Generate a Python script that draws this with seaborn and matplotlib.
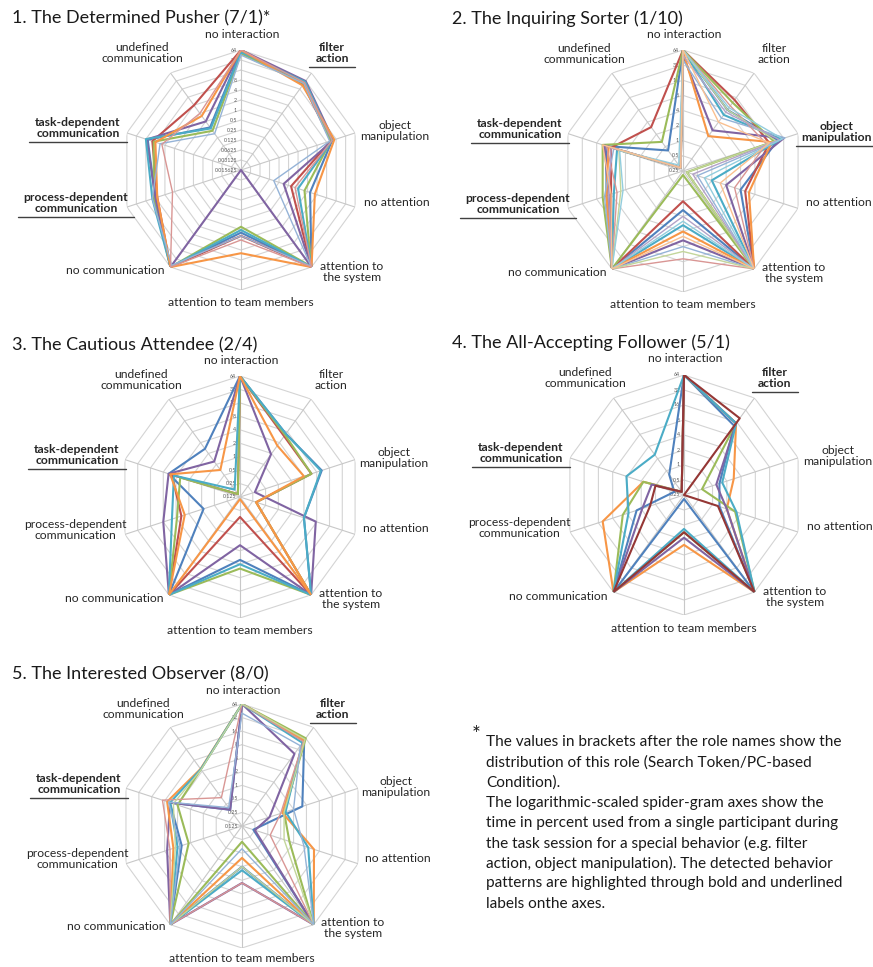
import numpy as np
import matplotlib
matplotlib.use('Agg')
import matplotlib.pyplot as plt
from matplotlib.lines import Line2D
import seaborn as sns

sns.set_theme(style='white')
plt.rcParams['font.family'] = ['Lato', 'DejaVu Sans']

W, H = 873, 967

# axes of the spider-grams, clockwise from the top
axis_labels = ['no interaction', 'filter\naction', 'object\nmanipulation', 'no attention',
               'attention to\nthe system', 'attention to team members', 'no communication',
               'process-dependent\ncommunication', 'task-dependent\ncommunication',
               'undefined\ncommunication']

# Excel-like series colours
B, R, G, P, A, O = '#4F81BD', '#C0504D', '#9BBB59', '#8064A2', '#4BACC6', '#F79646'
LB, PK, LG, LP, LA, LO = '#95B3D7', '#D99694', '#C3D69B', '#B3A2C7', '#93CDDD', '#FAC090'
DR = '#953735'

# 1. The Determined Pusher  (values in % of session time)
pusher = [
    [60, 28, 12, 2.4, 64, 1.2, 64, 8, 14, 0.6],
    [64, 24, 11, 0.6, 64, 1.5, 64, 7, 10, 4],
    [50, 26, 11, 1.6, 60, 0.8, 64, 9, 9, 0.45],
    [64, 32, 13, 0.35, 64, 0.015625, 64, 8, 15, 1.0],
    [55, 30, 12, 1.0, 64, 1.0, 64, 10, 16, 0.55],
    [64, 22, 14, 3.4, 64, 5, 64, 7, 8, 1.6],
    [45, 26, 10, 0.17, 60, 1.5, 55, 10, 5.7, 0.35],
    [64, 28, 12, 0.8, 64, 2, 64, 2.3, 5, 2],
]
pusher_colors = [B, R, G, P, A, O, LB, PK]
pusher_ticks = ['64', '32', '16', '8', '4', '2', '1', '0.5', '0.25', '0.125',
                '0.0625', '0.03125', '0.015625']

# 2. The Inquiring Sorter
sorter = [
    [64, 8, 24, 4, 64, 1.5, 64, 10, 10, 0.8],
    [64, 14, 16, 5, 64, 1.0, 64, 8, 8, 3],
    [64, 12, 20, 0.3, 64, 0.3, 64, 12, 12, 1.3],
    [50, 2.5, 32, 2, 64, 6, 64, 9, 11, 0.3],
    [64, 6, 28, 1, 64, 3, 64, 7, 6, 0.3],
    [60, 1.8, 18, 6, 64, 4, 64, 10, 9, 0.3],
    [40, 5, 34, 0.5, 64, 8, 64, 11, 7, 0.3],
    [64, 10, 14, 3, 64, 14, 64, 6, 10, 0.3],
    [64, 8, 22, 0.3, 64, 10, 64, 5, 5.5, 0.3],
    [50, 7, 26, 0.4, 64, 2, 64, 9, 8, 0.3],
    [64, 9, 30, 0.7, 64, 2.5, 64, 4.5, 5.3, 0.35],
    [64, 4, 16, 1.5, 64, 5, 64, 8, 12, 0.3],
]
sorter_colors = [B, R, G, P, A, O, LB, PK, LG, LP, LA, LO]
sorter_ticks = ['64', '32', '16', '8', '4', '2', '1', '0.5', '0.25']

# 3. The Cautious Attendee
attendee = [
    [64, 7, 10.5, 4, 64, 3.2, 64, 0.9, 6, 2.7],
    [64, 6, 6, 0.3, 64, 0.35, 64, 3, 5, 0.15],
    [64, 6.5, 6, 0.3, 64, 5, 64, 3.8, 3.2, 0.15],
    [64, 1.9, 0.28, 7.6, 64, 1.5, 64, 8, 6, 1.2],
    [64, 7, 10, 4, 64, 4, 64, 5, 4.5, 0.2],
    [64, 3.3, 4, 0.3, 64, 0.14, 64, 2.5, 5.5, 0.7],
]
attendee_colors = [B, R, G, P, A, O]
attendee_ticks = ['64', '32', '16', '8', '4', '2', '1', '0.5', '0.25', '0.125']

# 4. The All-Accepting Follower
follower = [
    [64, 13, 1.4, 1.4, 64, 0.3, 64, 2.5, 0.4, 0.8],
    [64, 15, 2.8, 2, 64, 2.5, 64, 13, 1.8, 0.3],
    [64, 15, 0.6, 3, 64, 1.4, 64, 4.9, 1.8, 0.3],
    [64, 15, 1.2, 2, 64, 1.8, 64, 1.9, 1.2, 0.3],
    [64, 15, 1.6, 3.2, 64, 1.2, 64, 3.7, 4.1, 2.5],
    [64, 20, 0.25, 1.3, 64, 1.4, 64, 1.3, 1.0, 0.3],
]
follower_colors = [B, O, G, P, A, DR]
follower_ticks = ['64', '32', '16', '8', '4', '2', '1', '0.5', '0.25']

# 5. The Interested Observer
observer = [
    [64, 28, 3.2, 0.23, 64, 1.0, 64, 3.2, 6, 0.35],
    [64, 12, 0.55, 0.25, 64, 2.3, 64, 7, 6, 0.35],
    [64, 32, 1.2, 1.6, 64, 0.28, 64, 2.2, 4, 4.5],
    [64, 28, 1.1, 6, 64, 0.64, 64, 5, 7, 4.6],
    [64, 24, 1.3, 4.4, 64, 1.2, 64, 4, 6, 4.5],
    [64, 26, 1.0, 0.57, 64, 2.3, 64, 6, 9, 0.75],
    [64, 30, 1.2, 1.2, 64, 1.0, 64, 4.5, 5, 4.4],
    [40, 20, 2, 3.5, 64, 0.4, 64, 3.5, 6.5, 0.4],
]
observer_colors = [B, P, G, O, A, PK, LG, LB]
observer_ticks = ['64', '32', '16', '8', '4', '2', '1', '0.5', '0.25', '0.125']

# label offsets from the centre (pixels, x right / y down)
label_offsets = [(1, -136), (91, -117), (154, -39), (156, 32), (111, 102),
                 (0, 133), (-126, 101), (-165, 33), (-163, -42), (-99, -117)]

panels = [
    ('1. The Determined Pusher (7/1)*', pusher, pusher_colors, pusher_ticks, (241, 170), 120, [1, 7, 8]),
    ('2. The Inquiring Sorter (1/10)', sorter, sorter_colors, sorter_ticks, (683, 171), 121, [2, 7, 8]),
    ('3. The Cautious Attendee (2/4)', attendee, attendee_colors, attendee_ticks, (240, 497), 121, [8]),
    ('4. The All-Accepting Follower (5/1)', follower, follower_colors, follower_ticks, (684, 495), 120, [1, 8]),
    ('5. The Interested Observer (8/0)', observer, observer_colors, observer_ticks, (242, 826), 122, [1, 8]),
]

fig = plt.figure(figsize=(W / 100, H / 100), dpi=100)
theta = np.linspace(0, 2 * np.pi, 11)
bold_texts = []

for title, series, colors, ticks, (cx, cy), rad, bold in panels:
    ax = fig.add_axes([(cx - rad) / W, 1 - (cy + rad) / H, 2 * rad / W, 2 * rad / H],
                      projection='polar')
    ax.set_theta_zero_location('N')
    ax.set_theta_direction(-1)
    ax.set_rscale('log', base=2)
    levels = [float(t) for t in ticks]
    vmin = min(levels)

    # decagon grid and spokes
    for lv in levels:
        ax.plot(theta, [lv] * 11, color='#D4D4D4', lw=0.8, zorder=1)
    for t in theta[:-1]:
        ax.plot([t, t], [vmin, 64], color='#C8C8C8', lw=0.8, zorder=1)

    for i, (vals, c) in enumerate(zip(series, colors)):
        lw = 1.5 if c in (B, R, G, P, A, O, DR) else 1.0
        sns.lineplot(x=theta, y=list(vals) + [vals[0]], ax=ax, color=c, linewidth=lw,
                     sort=False, estimator=None, zorder=3 + i)

    ax.set_thetalim(0, 2 * np.pi)
    ax.set_rlim(vmin, 64)
    ax.grid(False)
    ax.set_xticks([])
    ax.set_yticks([])
    ax.set_xlabel('')
    ax.set_ylabel('')
    ax.spines['polar'].set_visible(False)
    ax.patch.set_alpha(0)

    for lv, t in zip(levels, ticks):
        ax.annotate(t, xy=(0, lv), xytext=(-4, 0), textcoords='offset pixels',
                    ha='right', va='center', fontsize=3.8, color='#595959', zorder=2)

    for k, (lab, (dx, dy)) in enumerate(zip(axis_labels, label_offsets)):
        txt = ax.annotate(lab, xy=(0.5, 0.5), xycoords='axes fraction', xytext=(dx, -dy),
                          textcoords='offset pixels', ha='center', va='center',
                          fontsize=8.7, color='#262626', linespacing=0.92,
                          fontweight='bold' if k in bold else 'normal',
                          annotation_clip=False)
        if k in bold:
            bold_texts.append(txt)

    tx = 12 if cx < 400 else 452
    fig.text(tx / W, 1 - (cy - 152) / H, title, fontsize=13, ha='left', va='center',
             color='#1a1a1a')

# explanation note
fig.text(472 / W, 1 - 735 / H, '*', fontsize=15, ha='left', va='center', color='#1a1a1a')
note_lines = ['The values in brackets after the role names show the',
              'distribution of this role (Search Token/PC-based',
              'Condition).',
              'The logarithmic-scaled spider-gram axes show the',
              'time in percent used from a single participant during',
              'the task session for a special behavior (e.g. filter',
              'action, object manipulation). The detected behavior',
              'patterns are highlighted through bold and underlined',
              'labels onthe axes.']
for i, line in enumerate(note_lines):
    fig.text(486 / W, 1 - (742 + 20.2 * i) / H, line, fontsize=11.1, ha='left', va='center',
             color='#1a1a1a')

# underline the detected behaviour labels
fig.canvas.draw()
for txt in bold_texts:
    bb = txt.get_window_extent()
    y = bb.y0 - 3
    fig.add_artist(Line2D([(bb.x0 - 6) / W, (bb.x1 + 6) / W], [y / H, y / H],
                          transform=fig.transFigure, color='#404040', lw=1.0))

fig.savefig('out.png', dpi=100)
